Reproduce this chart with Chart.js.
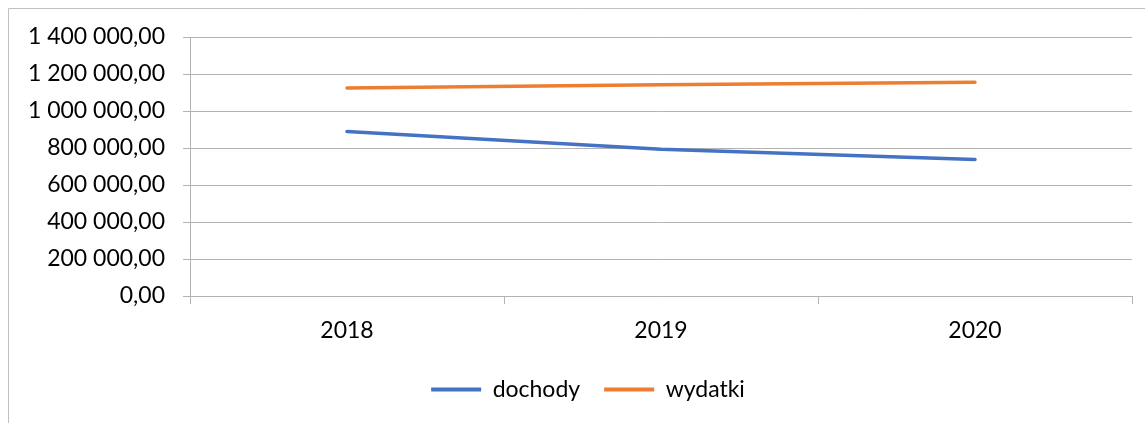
<!DOCTYPE html>
<html>
<head>
<meta charset="utf-8">
<script src="https://cdn.jsdelivr.net/npm/chart.js@4"></script>
<style>
  html, body { margin: 0; padding: 0; background: #fff; }
  #wrap { width: 1145px; height: 423px; position: relative; }
</style>
</head>
<body>
<div id="wrap"><canvas id="c" width="1145" height="423"></canvas></div>
<script>
const categories = ['2018', '2019', '2020'];
const dochody = [889000, 793000, 738000];
const wydatki = [1124000, 1142000, 1155000];
const yTickLabels = ['0,00', '200 000,00', '400 000,00', '600 000,00', '800 000,00', '1 000 000,00', '1 200 000,00', '1 400 000,00'];
const seriesNames = ['dochody', 'wydatki'];

const FONT = 'Lato';
const FS = 23;

const framePlugin = {
  id: 'frame',
  afterLayout(chart) {
    if (chart.legend) { chart.legend.left += 22; chart.legend.right += 22; }
  },
  beforeDraw(chart) {
    const ctx = chart.ctx;
    ctx.save();
    ctx.fillStyle = '#fff';
    ctx.fillRect(0, 0, chart.width, chart.height);
    ctx.strokeStyle = '#bfbfbf';
    ctx.lineWidth = 1;
    ctx.beginPath();
    ctx.moveTo(8.5, chart.height + 5);
    ctx.lineTo(8.5, 8.5);
    ctx.lineTo(chart.width + 5, 8.5);
    ctx.stroke();
    ctx.restore();
  }
};

new Chart(document.getElementById('c'), {
  type: 'line',
  data: {
    labels: categories,
    datasets: [
      { label: seriesNames[0], data: dochody, borderColor: '#4472C4', backgroundColor: '#4472C4', borderWidth: 3.5, pointRadius: 0, tension: 0, borderCapStyle: 'round' },
      { label: seriesNames[1], data: wydatki, borderColor: '#ED7D31', backgroundColor: '#ED7D31', borderWidth: 3.5, pointRadius: 0, tension: 0, borderCapStyle: 'round' }
    ]
  },
  options: {
    responsive: false,
    animation: false,
    devicePixelRatio: 1,
    layout: { padding: { top: 37, right: 13, bottom: 12, left: 0 } },
    plugins: {
      tooltip: { enabled: false },
      legend: {
        position: 'bottom',
        labels: {
          font: { family: FONT, size: FS },
          color: '#000',
          boxWidth: 50,
          boxHeight: 4,
          padding: 24,
          generateLabels(chart) {
            return chart.data.datasets.map((ds, i) => ({
              text: ds.label,
              fillStyle: ds.borderColor,
              strokeStyle: ds.borderColor,
              lineWidth: 0,
              hidden: false,
              datasetIndex: i
            }));
          }
        }
      }
    },
    scales: {
      x: {
        offset: true,
        grid: { offset: true, drawOnChartArea: false, drawTicks: true, tickLength: 8, color: '#b3b3b3' },
        border: { display: true, color: '#b3b3b3' },
        ticks: { font: { family: FONT, size: FS }, color: '#000', padding: 13, maxRotation: 0 },
        afterFit(scale) { scale.height = 58; }
      },
      y: {
        min: 0,
        max: 1400000,
        ticks: {
          stepSize: 200000,
          font: { family: FONT, size: FS },
          color: '#000',
          padding: 18,
          callback: (v, i) => yTickLabels[i]
        },
        grid: { color: '#b3b3b3', tickLength: 7 },
        border: { display: true, color: '#b3b3b3' },
        afterFit(scale) { scale.width = 190; }
      }
    }
  },
  plugins: [framePlugin]
});
</script>
</body>
</html>
